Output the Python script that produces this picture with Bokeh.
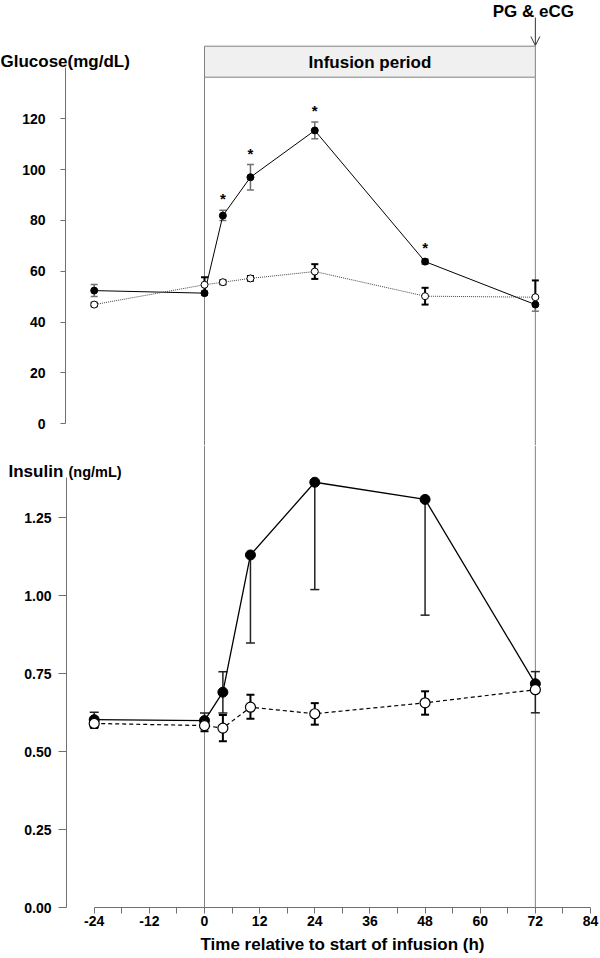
from bokeh.plotting import figure
from bokeh.layouts import column
from bokeh.models import Range1d, FixedTicker, PrintfTickFormatter, Label, Arrow, OpenHead
from bokeh.embed import file_html
from bokeh.resources import INLINE
from bokeh.core.properties import value

# ---------------- data ----------------
hours = [-24, 0, 4, 10, 24, 48, 72]
infusion = [0, 72]

gluc_trt = [52.4, 51.4, 81.9, 97.0, 115.4, 63.8, 46.9]
gluc_trt_lo = [50.1, 50.6, 80.0, 92.0, 112.1, 62.8, 44.3]
gluc_trt_hi = [54.8, 52.2, 84.0, 102.0, 118.7, 64.8, 49.5]

gluc_ctl = [46.9, 54.7, 55.7, 57.2, 59.9, 50.2, 49.8]
gluc_ctl_lo = [46.2, 51.7, 54.9, 56.3, 57.0, 46.9, 49.8]
gluc_ctl_hi = [47.6, 57.7, 56.5, 58.1, 62.8, 53.5, 56.4]

star_hours = [4, 10, 24, 48]

ins_trt = [0.602, 0.599, 0.690, 1.130, 1.363, 1.308, 0.717]
ins_trt_lo = [0.578, 0.590, 0.623, 0.848, 1.019, 0.937, 0.624]
ins_trt_hi = [0.626, 0.623, 0.756, 1.130, 1.363, 1.308, 0.756]

ins_ctl = [0.590, 0.583, 0.575, 0.642, 0.621, 0.656, 0.698]
ins_ctl_lo = [0.575, 0.565, 0.533, 0.605, 0.586, 0.618, 0.698]
ins_ctl_hi = [0.605, 0.600, 0.617, 0.682, 0.655, 0.693, 0.698]

x_major = [-24, -12, 0, 12, 24, 36, 48, 60, 72, 84]
x_minor = [-18, -6, 6, 18, 30, 42, 54, 66, 78]
g_ticks = [0, 20, 40, 60, 80, 100, 120]
i_ticks = [0, 0.25, 0.5, 0.75, 1.0, 1.25]

# ---------------- layout ----------------
FONT = "Liberation Sans"
AX = "#707070"
W = 600
TOTAL_H = 958
ZERO_PX = 204           # screen column of hour 0
LAST_PX = 590           # screen column of hour 84
X_SCALE = (LAST_PX - ZERO_PX) / 84.0
X_START = -ZERO_PX / X_SCALE
X_END = X_START + W / X_SCALE


def x_at(px):
    return X_START + px / X_SCALE


H1 = 445
G_ZERO = 423.3
G_SCALE = 2.542
g_top = G_ZERO / G_SCALE
g_bot = -(H1 - G_ZERO) / G_SCALE


def g_at(py):
    return (G_ZERO - py) / G_SCALE


H2 = TOTAL_H - H1
I_ZERO = 907.0          # screen row of insulin 0 / x axis
I_SCALE = 312.0
I_END = (I_ZERO - H1) / I_SCALE
I_START = -(TOTAL_H - I_ZERO) / I_SCALE


def i_at(py):
    return (I_ZERO - py) / I_SCALE


def style_axis(ax, tick_out, standoff):
    ax.axis_line_color = AX
    ax.major_tick_line_color = AX
    ax.minor_tick_line_color = AX
    ax.major_tick_out = tick_out
    ax.major_tick_in = 0
    ax.minor_tick_in = 0
    ax.major_label_standoff = standoff
    ax.major_label_text_font = FONT
    ax.major_label_text_font_style = "bold"
    ax.major_label_text_font_size = "14px"
    ax.major_label_text_color = "black"


def err_bars(p, x, lo, hi, color, width, cap):
    p.segment(x0=x, y0=lo, x1=x, y1=hi, line_color=color, line_width=width)
    p.scatter(x=x, y=lo, marker="dash", size=cap, line_color=color, line_width=width)
    p.scatter(x=x, y=hi, marker="dash", size=cap, line_color=color, line_width=width)


# ---------------- glucose panel ----------------
p1 = figure(width=W, height=H1, output_backend="svg", toolbar_location=None,
            x_range=Range1d(X_START, X_END), y_range=Range1d(g_bot, g_top),
            x_axis_location=None, min_border_left=0, min_border_right=0,
            min_border_top=0, min_border_bottom=0)
p1.outline_line_color = None
p1.grid.visible = False
ya = p1.yaxis[0]
ya.ticker = FixedTicker(ticks=g_ticks, minor_ticks=[])
ya.bounds = (0, 140)
ya.fixed_location = x_at(65)
style_axis(ya, 5, 15)

# infusion box + vertical lines
p1.quad(left=[infusion[0]], right=[infusion[1]], top=[g_at(45.7)], bottom=[g_at(76.7)],
        fill_color="#f0f0f0", line_color="#808080", line_width=1)
p1.text(x=[(infusion[0] + infusion[1]) / 2], y=[g_at(62)], text=["Infusion period"],
        text_font=value(FONT), text_font_style="bold", text_font_size="17px",
        text_align="center", text_baseline="middle", text_color="black")
p1.segment(x0=infusion, y0=[g_at(76.7)] * 2, x1=infusion, y1=[g_bot] * 2,
           line_color="#808080", line_width=1)

p1.add_layout(Label(x=infusion[1], x_offset=-2, y=g_at(1), text="PG & eCG", text_font=FONT,
                    text_font_style="bold", text_font_size="17px",
                    text_align="center", text_baseline="top", text_color="black"))
p1.add_layout(Arrow(end=OpenHead(size=9, line_width=1, line_color="#333333"),
                    x_start=infusion[1], y_start=g_at(17), x_end=infusion[1], y_end=g_at(45),
                    line_color="#333333", line_width=1))
p1.add_layout(Label(x=x_at(0), y=g_at(61), text="Glucose(mg/dL)", text_font=FONT,
                    text_font_style="bold", text_font_size="17px",
                    text_align="left", text_baseline="middle", text_color="black"))

# treatment (filled)
err_bars(p1, hours, gluc_trt_lo, gluc_trt_hi, "#707070", 1.5, 7)
p1.line(hours, gluc_trt, line_color="black", line_width=1)
p1.scatter(hours, gluc_trt, marker="circle", size=7, fill_color="black", line_color="black")
# control (open)
err_bars(p1, hours, gluc_ctl_lo, gluc_ctl_hi, "black", 2, 7)
p1.line(hours, gluc_ctl, line_color="#444444", line_width=1, line_dash="1 1")
p1.scatter(hours, gluc_ctl, marker="circle", size=7, fill_color="white", line_color="black",
           line_width=1)
# significance
star_y = [gluc_trt_hi[hours.index(h)] for h in star_hours]
p1.text(x=star_hours, y=star_y, text=["*"] * len(star_hours), text_font=value(FONT),
        text_font_style="bold", text_font_size="15px", text_align="center",
        text_baseline="bottom", y_offset=-3, text_color="black")

# ---------------- insulin panel ----------------
p2 = figure(width=W, height=H2, output_backend="svg", toolbar_location=None,
            x_range=p1.x_range, y_range=Range1d(I_START, I_END),
            min_border_left=0, min_border_right=0, min_border_top=0, min_border_bottom=0)
p2.outline_line_color = None
p2.grid.visible = False
xa = p2.xaxis[0]
xa.ticker = FixedTicker(ticks=x_major, minor_ticks=x_minor)
xa.formatter = PrintfTickFormatter(format="%d")
xa.bounds = (-24, 84)
xa.fixed_location = 0
style_axis(xa, 6, 2)
xa.minor_tick_out = 6
xa.axis_label = "Time relative to start of infusion (h)"
xa.axis_label_text_font = FONT
xa.axis_label_text_font_style = "bold"
xa.axis_label_text_font_size = "17px"
xa.axis_label_standoff = 6
xa.axis_label_text_color = "black"

yb = p2.yaxis[0]
yb.ticker = FixedTicker(ticks=i_ticks, minor_ticks=[])
yb.formatter = PrintfTickFormatter(format="%.2f")
yb.bounds = (0, 1.378)
yb.fixed_location = x_at(66)
style_axis(yb, 8, 7)

p2.segment(x0=infusion, y0=[I_END] * 2, x1=infusion, y1=[0] * 2,
           line_color="#808080", line_width=1)

p2.add_layout(Label(x=x_at(8), y=i_at(471), text="Insulin", text_font=FONT,
                    text_font_style="bold", text_font_size="17px",
                    text_align="left", text_baseline="alphabetic", text_color="black"))
p2.add_layout(Label(x=x_at(68), y=i_at(471), text="(ng/mL)", text_font=FONT,
                    text_font_style="bold", text_font_size="14.5px",
                    text_align="left", text_baseline="alphabetic", text_color="black"))

err_bars(p2, hours, ins_trt_lo, ins_trt_hi, "#222222", 1.5, 9)
p2.line(hours, ins_trt, line_color="black", line_width=1.3)
p2.scatter(hours, ins_trt, marker="circle", size=10, fill_color="black", line_color="black")
err_bars(p2, hours, ins_ctl_lo, ins_ctl_hi, "black", 2, 8)
p2.line(hours, ins_ctl, line_color="black", line_width=1.2, line_dash="4 3")
p2.scatter(hours, ins_ctl, marker="circle", size=10, fill_color="white", line_color="black",
           line_width=1.2)

layout = column(p1, p2)
open("out.html", "w").write(file_html(layout, INLINE))
